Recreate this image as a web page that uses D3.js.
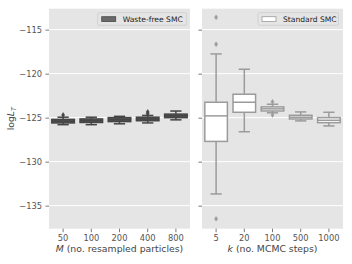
<!DOCTYPE html>
<html><head><meta charset="utf-8">
<script src="https://cdn.jsdelivr.net/npm/d3@7/dist/d3.min.js"></script>
<style>body{margin:0;background:#fff}svg{display:block}text{font-family:"DejaVu Sans",sans-serif}</style>
</head><body><svg id="c" width="352" height="264"></svg>
<script>
const leftCats = ["50","100","200","400","800"];
const leftWhisLo = [-125.8,-125.8,-125.7,-125.6,-125.25];
const leftQ1 = [-125.6,-125.55,-125.45,-125.35,-125.0];
const leftMed = [-125.4,-125.35,-125.25,-125.15,-124.8];
const leftQ3 = [-125.2,-125.15,-125.0,-124.95,-124.6];
const leftWhisHi = [-124.95,-124.95,-124.85,-124.75,-124.25];
const leftOutliers = [[-124.7],[],[],[-124.55,-124.35],[]];

const rightCats = ["5","20","100","500","1000"];
const rightWhisLo = [-133.67,-126.6,-124.45,-125.37,-125.94];
const rightQ1 = [-127.7,-124.39,-124.24,-125.15,-125.57];
const rightMed = [-124.8,-123.25,-124.0,-124.95,-125.3];
const rightQ3 = [-123.25,-122.34,-123.78,-124.73,-125.0];
const rightWhisHi = [-117.76,-119.5,-123.48,-124.35,-124.39];
const rightOutliers = [[-113.6,-116.66,-136.5],[],[-123.2,-124.7],[],[]];

const yTicks = [-115,-120,-125,-130,-135];

const svg = d3.select("#c");
const plotTop = 8.7, plotBottom = 228.7;
const y = d3.scaleLinear().domain([-112.62,-137.62]).range([plotTop,plotBottom]);

function panel(x0, x1, cats, lo, q1, med, q3, hi, outs, fill, stroke, showLabels, xlabelItalic, xlabelRest, legendText, legendX, legendW, patchFill, patchStroke) {
  const g = svg.append("g");
  g.append("rect").attr("x",x0).attr("y",plotTop).attr("width",x1-x0).attr("height",plotBottom-plotTop).attr("fill","#e5e5e5");
  yTicks.forEach(t=>{
    g.append("line").attr("x1",x0).attr("x2",x1).attr("y1",y(t)).attr("y2",y(t)).attr("stroke","#fff").attr("stroke-width",1);
  });
  const yAxis = d3.axisLeft(y).tickValues(yTicks).tickSize(3.5).tickPadding(3.5).tickFormat(d=> showLabels ? "\u2212"+Math.abs(d) : "");
  const ya = g.append("g").attr("transform",`translate(${x0},0)`).call(yAxis);
  ya.select(".domain").remove();
  ya.selectAll("line").attr("stroke","#555").attr("stroke-width",0.8);
  ya.selectAll("text").attr("fill","#555").attr("font-size","8.3px").attr("font-family","DejaVu Sans");

  const x = d3.scaleBand().domain(cats).range([x0,x1]).paddingInner(0.2).paddingOuter(0.1);
  const xAxis = d3.axisBottom(x).tickSize(3.5).tickPadding(3);
  const xa = g.append("g").attr("transform",`translate(0,${plotBottom})`).call(xAxis);
  xa.select(".domain").remove();
  xa.selectAll("line").attr("stroke","#555").attr("stroke-width",0.8);
  xa.selectAll("text").attr("fill","#555").attr("font-size","8.3px").attr("font-family","DejaVu Sans");

  const sw = 1.5;
  cats.forEach((c,i)=>{
    const cx = x(c)+x.bandwidth()/2, bw = x.bandwidth();
    const capW = bw*0.5;
    g.append("line").attr("x1",cx).attr("x2",cx).attr("y1",y(hi[i])).attr("y2",y(q3[i])).attr("stroke",stroke).attr("stroke-width",sw);
    g.append("line").attr("x1",cx).attr("x2",cx).attr("y1",y(q1[i])).attr("y2",y(lo[i])).attr("stroke",stroke).attr("stroke-width",sw);
    g.append("line").attr("x1",cx-capW/2).attr("x2",cx+capW/2).attr("y1",y(hi[i])).attr("y2",y(hi[i])).attr("stroke",stroke).attr("stroke-width",sw);
    g.append("line").attr("x1",cx-capW/2).attr("x2",cx+capW/2).attr("y1",y(lo[i])).attr("y2",y(lo[i])).attr("stroke",stroke).attr("stroke-width",sw);
    g.append("rect").attr("x",x(c)).attr("width",bw).attr("y",y(q3[i])).attr("height",Math.max(0.5,y(q1[i])-y(q3[i])))
      .attr("fill",fill).attr("stroke",stroke).attr("stroke-width",sw);
    g.append("line").attr("x1",x(c)).attr("x2",x(c)+bw).attr("y1",y(med[i])).attr("y2",y(med[i])).attr("stroke",stroke).attr("stroke-width",sw);
    outs[i].forEach(o=>{
      const yy=y(o), r=2.4;
      g.append("path").attr("d",`M${cx},${yy-r}L${cx+r*0.65},${yy}L${cx},${yy+r}L${cx-r*0.65},${yy}Z`).attr("fill",stroke).attr("stroke",stroke).attr("stroke-width",0.5);
    });
  });

  const xl = g.append("text").attr("x",(x0+x1)/2).attr("y",252).attr("text-anchor","middle").attr("font-size","9.3px").attr("fill","#444");
  xl.append("tspan").attr("font-style","italic").text(xlabelItalic);
  xl.append("tspan").text(xlabelRest);

  g.append("rect").attr("x",legendX).attr("y",12.7).attr("width",legendW).attr("height",12.6).attr("fill","#e5e5e5").attr("stroke","#ccc").attr("stroke-width",0.8).attr("rx",1.5);
  g.append("rect").attr("x",legendX+4).attr("y",16.7).attr("width",14).attr("height",4.8).attr("fill",patchFill).attr("stroke",patchStroke).attr("stroke-width",0.8);
  g.append("text").attr("x",legendX+25).attr("y",22).attr("font-size","7.6px").attr("fill","#222").text(legendText);
}

panel(49,190,leftCats,leftWhisLo,leftQ1,leftMed,leftQ3,leftWhisHi,leftOutliers,"#575757","#454545",true,"M"," (no. resampled particles)","Waste-free SMC",97.7,89,"#6a6a6a","#474747");
panel(202,343,rightCats,rightWhisLo,rightQ1,rightMed,rightQ3,rightWhisHi,rightOutliers,"#ffffff","#9b9b9b",false,"k"," (no. MCMC steps)","Standard SMC",258,80.5,"#ffffff","#9b9b9b");

const yl = svg.append("text").attr("transform",`translate(14,${(plotTop+plotBottom)/2}) rotate(-90)`).attr("text-anchor","middle").attr("font-size","9.3px").attr("fill","#444");
yl.append("tspan").text("log");
yl.append("tspan").attr("font-style","italic").text("L");
yl.append("tspan").attr("font-style","italic").attr("font-size","6.5px").attr("dy","2").text("T");
</script></body></html>
